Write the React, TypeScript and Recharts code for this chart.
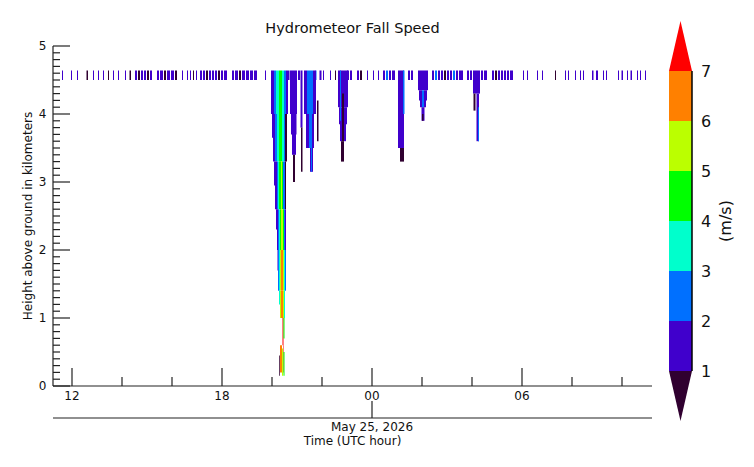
import React from 'react';
import { ComposedChart, BarChart, Bar, XAxis, YAxis, ReferenceArea, ReferenceLine } from 'recharts';

const FONT = '"DejaVu Sans", sans-serif';
const AXIS = '#222';

// fall speed classes: <1, 1-2, 2-3, 3-4, 4-5, 5-6, 6-7, >7 m/s
const levelColors = ['#300030', '#4000cc', '#0070ff', '#00ffcc', '#00ff00', '#bbff00', '#ff8000', '#ff0000'];
const colorbarTicks = [1, 2, 3, 4, 5, 6, 7];

// time in hours since 00 UTC May 24
const timeDomain = [11.24, 35.2];
const xMajorHours = [12, 18, 24, 30];
const xMajorLabels = ['12', '18', '00', '06'];
const xMinorHours = [14, 16, 20, 22, 26, 28, 32, 34];
const dateTickHour = 24;
const dateLabel = 'May 25, 2026';
const heightDomain = [0, 5];
const heightTicks = Array.from({ length: 51 }, (_, i) => i / 10);

// echoes near the top of the profile: [start h, end h, class]
const bandBottom = 4.5;
const bandTop = 4.64;
const bandStreaks = [
  [11.60, 11.64, 1], [11.96, 12.00, 1], [12.20, 12.24, 1], [12.58, 12.64, 0], [12.84, 12.88, 1],
  [13.04, 13.08, 1], [13.24, 13.28, 1], [13.44, 13.48, 0], [13.64, 13.68, 1], [13.84, 13.88, 1],
  [14.12, 14.16, 1], [14.30, 14.36, 0],
  [14.52, 14.60, 1], [14.64, 14.72, 0], [14.76, 14.84, 1], [14.88, 14.96, 1], [15.00, 15.08, 0], [15.12, 15.20, 1],
  [15.40, 15.48, 1], [15.52, 15.64, 1], [15.68, 15.76, 0], [15.80, 15.92, 1], [15.96, 16.08, 1], [16.12, 16.20, 0],
  [16.40, 16.44, 1], [16.60, 16.64, 1], [16.72, 16.76, 1], [16.84, 16.88, 0], [16.96, 17.00, 1],
  [17.12, 17.20, 1], [17.24, 17.32, 1], [17.36, 17.44, 0], [17.48, 17.56, 1], [17.60, 17.68, 1],
  [17.72, 17.80, 1], [17.84, 17.92, 0], [17.96, 18.04, 1], [18.08, 18.20, 1],
  [18.40, 18.48, 1], [18.52, 18.64, 1], [18.68, 18.76, 0], [18.80, 18.92, 1], [18.96, 19.08, 1],
  [19.12, 19.24, 1], [19.28, 19.40, 1], [19.72, 19.76, 1],
  [20.64, 20.70, 1], [21.04, 21.12, 1], [21.74, 21.78, 2], [21.90, 21.98, 1],
  [22.04, 22.08, 1], [22.32, 22.36, 1], [22.52, 22.56, 0],
  [23.00, 23.08, 1], [23.12, 23.20, 1], [23.40, 23.48, 1], [23.52, 23.60, 0], [23.80, 23.84, 1],
  [24.04, 24.08, 1], [24.24, 24.28, 1],
  [24.44, 24.52, 1], [24.56, 24.64, 2], [24.68, 24.76, 1], [24.80, 24.92, 1],
  [25.44, 25.52, 1], [25.56, 25.64, 1],
  [26.40, 26.48, 1], [26.52, 26.60, 2], [26.64, 26.72, 1], [26.76, 26.84, 1], [26.88, 26.96, 0],
  [27.00, 27.08, 1], [27.12, 27.20, 1], [27.24, 27.32, 2], [27.36, 27.44, 1], [27.48, 27.64, 1],
  [27.80, 27.88, 1], [27.92, 28.00, 1], [28.36, 28.44, 1], [28.48, 28.60, 1],
  [28.80, 28.88, 1], [28.92, 29.00, 0], [29.04, 29.12, 1], [29.16, 29.24, 1], [29.28, 29.36, 1],
  [29.40, 29.48, 1], [29.52, 29.64, 1],
  [30.04, 30.08, 1], [30.20, 30.24, 1], [30.60, 30.64, 1], [30.80, 30.84, 1], [31.32, 31.36, 0],
  [31.72, 31.76, 1], [31.84, 31.88, 1], [32.12, 32.16, 1], [32.32, 32.36, 1], [32.44, 32.48, 1],
  [32.80, 32.86, 1], [32.96, 33.04, 1], [33.24, 33.28, 1], [33.36, 33.40, 1], [33.84, 33.88, 1],
  [33.98, 34.04, 1], [34.20, 34.24, 1], [34.34, 34.40, 1], [34.60, 34.64, 1], [34.72, 34.76, 1],
  [34.92, 34.96, 1],
];

// main fall streak around 20 UTC: [start h, end h, bottom km, top km, class]
const mainShaft = [
  [19.96, 20.08, 4.0, 4.64, 1], [20.08, 20.16, 4.0, 4.64, 2], [20.16, 20.28, 4.0, 4.64, 3], [20.28, 20.40, 4.0, 4.64, 4],
  [20.40, 20.48, 4.0, 4.64, 3], [20.48, 20.56, 4.0, 4.64, 2], [20.56, 20.64, 4.0, 4.64, 1],
  [20.00, 20.04, 3.65, 4.0, 1],
  [20.04, 20.12, 3.3, 4.0, 1], [20.12, 20.20, 3.3, 4.0, 2], [20.20, 20.28, 3.3, 4.0, 3], [20.28, 20.40, 3.3, 4.0, 4],
  [20.40, 20.48, 3.3, 4.0, 3], [20.48, 20.52, 3.3, 4.0, 2], [20.52, 20.60, 3.3, 4.0, 0],
  [20.08, 20.12, 2.95, 3.3, 1],
  [20.12, 20.20, 2.6, 3.3, 1], [20.20, 20.24, 2.6, 3.3, 2], [20.24, 20.28, 2.6, 3.3, 3], [20.28, 20.36, 2.6, 3.3, 4],
  [20.36, 20.40, 2.6, 3.3, 5], [20.40, 20.44, 2.6, 3.3, 4], [20.44, 20.52, 2.6, 3.3, 2], [20.52, 20.56, 2.6, 3.3, 0],
  [20.16, 20.20, 2.3, 2.6, 1],
  [20.20, 20.24, 2.0, 2.6, 1], [20.24, 20.28, 2.0, 2.6, 2], [20.28, 20.32, 2.0, 2.6, 3], [20.32, 20.36, 2.0, 2.6, 4],
  [20.36, 20.44, 2.0, 2.6, 5], [20.44, 20.48, 2.0, 2.6, 4], [20.48, 20.52, 2.0, 2.6, 2], [20.52, 20.56, 2.0, 2.6, 1],
  [20.22, 20.24, 1.7, 2.0, 1],
  [20.24, 20.28, 1.4, 2.0, 2], [20.28, 20.32, 1.4, 2.0, 3], [20.32, 20.36, 1.4, 2.0, 5], [20.36, 20.44, 1.4, 2.0, 6],
  [20.44, 20.48, 1.4, 2.0, 5], [20.48, 20.52, 1.4, 2.0, 3], [20.52, 20.56, 1.4, 2.0, 2],
  [20.28, 20.32, 1.2, 1.4, 3],
  [20.32, 20.36, 1.0, 1.4, 5], [20.36, 20.44, 1.0, 1.4, 6], [20.44, 20.48, 1.0, 1.4, 5], [20.48, 20.52, 1.0, 1.4, 3],
  [20.42, 20.46, 0.6, 1.0, 7], [20.46, 20.50, 0.7, 1.0, 4],
  [20.28, 20.31, 0.15, 0.45, 0], [20.32, 20.40, 0.2, 0.6, 6], [20.40, 20.44, 0.15, 0.55, 5],
  [20.44, 20.46, 0.2, 0.6, 7], [20.46, 20.50, 0.15, 0.5, 4],
];

// shorter streaks: [start h, end h, bottom km, top km, class]
const minorShafts = [
  [20.72, 21.00, 4.0, 4.64, 1], [20.76, 20.80, 3.7, 4.0, 1], [20.96, 20.98, 3.7, 4.0, 1],
  [20.80, 20.96, 3.4, 4.0, 1], [20.84, 20.92, 3.0, 3.4, 0],
  [21.28, 21.40, 4.0, 4.64, 1], [21.40, 21.64, 4.0, 4.64, 2], [21.64, 21.76, 4.0, 4.64, 1],
  [21.36, 21.48, 3.5, 4.0, 1], [21.48, 21.60, 3.5, 4.0, 2], [21.60, 21.68, 3.5, 4.0, 1],
  [21.52, 21.64, 3.15, 3.5, 1], [21.56, 21.60, 3.15, 3.5, 2],
  [21.14, 21.22, 3.8, 4.64, 1], [21.16, 21.22, 3.15, 3.8, 0],
  [21.80, 21.86, 3.6, 4.2, 0],
  [22.64, 23.04, 4.1, 4.64, 1], [22.68, 22.72, 3.85, 4.1, 1], [22.96, 23.00, 3.85, 4.1, 1],
  [22.72, 22.96, 3.6, 4.1, 1], [22.72, 22.76, 3.9, 4.64, 2],
  [22.80, 22.88, 3.6, 4.3, 0], [22.76, 22.88, 3.3, 3.6, 0],
  [25.04, 25.28, 3.5, 4.64, 1], [25.12, 25.28, 3.3, 3.5, 0], [25.24, 25.30, 4.0, 4.64, 2],
  [25.84, 26.24, 4.35, 4.64, 1], [25.88, 25.92, 4.2, 4.35, 1], [26.16, 26.20, 4.2, 4.35, 1],
  [25.92, 26.00, 4.1, 4.35, 1], [26.00, 26.08, 4.1, 4.35, 2],
  [26.08, 26.16, 4.1, 4.35, 1], [25.98, 26.10, 3.9, 4.1, 1], [26.00, 26.06, 3.9, 4.0, 0],
  [28.04, 28.32, 4.3, 4.64, 1], [28.06, 28.14, 4.05, 4.3, 0], [28.18, 28.28, 3.6, 4.3, 1],
  [28.24, 28.28, 3.6, 4.1, 2],
];

const cells = [
  ...bandStreaks.map(([t0, t1, c]) => [t0, t1, bandBottom, bandTop, c]),
  ...mainShaft,
  ...minorShafts,
];
const cellRows = cells.map(([t0, t1, z0, z1, c]) => ({ t0, t1, z0, z1, c }));

const colorbarRow = [
  Object.fromEntries([['name', 'speed'], ...levelColors.map((_, i) => [`l${i}`, 1])]),
];

const TimeTick = (props: any) => {
  const { x, y, payload } = props;
  const idx = xMajorHours.indexOf(payload.value);
  return (
    <g>
      <line x1={x} x2={x} y1={y} y2={y - (idx >= 0 ? 18 : 9)} stroke={AXIS} strokeWidth={1.2} />
      {idx >= 0 && (
        <text x={x} y={y + 13.5} textAnchor="middle" fontSize={12} fontFamily={FONT} fill="#111">
          {xMajorLabels[idx]}
        </text>
      )}
    </g>
  );
};

const DateTick = (props: any) => {
  const { x, y } = props;
  return (
    <g>
      <line x1={x} x2={x} y1={y} y2={y - 17} stroke={AXIS} strokeWidth={1.2} />
      <text x={x} y={y + 13} textAnchor="middle" fontSize={12} fontFamily={FONT} fill="#111">
        {dateLabel}
      </text>
    </g>
  );
};

const HeightTick = (props: any) => {
  const { x, y, payload } = props;
  const v = payload.value;
  const major = Math.abs(v - Math.round(v)) < 1e-6;
  return (
    <g>
      <line x1={x} x2={x + (major ? 17 : 7)} y1={y} y2={y} stroke={AXIS} strokeWidth={1.2} />
      {major && (
        <text x={x - 6.5} y={y} dy="0.36em" textAnchor="end" fontSize={12} fontFamily={FONT} fill="#111">
          {Math.round(v)}
        </text>
      )}
    </g>
  );
};

const SpeedTick = (props: any) => {
  const { x, y, payload } = props;
  return (
    <text x={x + 9} y={y} dy="0.36em" fontSize={16} fontFamily={FONT} fill="#111">
      {payload.value}
    </text>
  );
};

const DownTriangle = (props: any) => {
  const { x, y, width, height, fill } = props;
  return <polygon points={`${x},${y} ${x + width},${y} ${x + width / 2},${y + height}`} fill={fill} />;
};

const UpTriangle = (props: any) => {
  const { x, y, width, height, fill } = props;
  return <polygon points={`${x},${y + height} ${x + width},${y + height} ${x + width / 2},${y}`} fill={fill} />;
};

export default function App() {
  return (
    <div style={{ position: 'absolute', left: 0, top: 0, width: 754, height: 467, background: '#fff' }}>
      <div style={{ position: 'absolute', left: 0, top: 0 }}>
        <ComposedChart
          width={754}
          height={467}
          data={cellRows}
          margin={{ top: 46, right: 102, bottom: 0, left: 0 }}
        >
          <XAxis
            xAxisId={0}
            dataKey="t0"
            type="number"
            domain={timeDomain}
            allowDataOverflow
            ticks={[...xMajorHours, ...xMinorHours].sort((a, b) => a - b)}
            interval={0}
            height={32}
            tickSize={0}
            tickMargin={0}
            tickLine={false}
            axisLine={{ stroke: AXIS, strokeWidth: 1.2 }}
            tick={TimeTick}
          />
          <XAxis
            xAxisId={1}
            dataKey="t0"
            type="number"
            domain={timeDomain}
            allowDataOverflow
            ticks={[dateTickHour]}
            interval={0}
            height={49}
            tickSize={0}
            tickMargin={0}
            tickLine={false}
            axisLine={{ stroke: AXIS, strokeWidth: 1.2 }}
            tick={DateTick}
          />
          <YAxis
            yAxisId="z"
            dataKey="z1"
            type="number"
            domain={heightDomain}
            allowDataOverflow
            ticks={heightTicks}
            interval={0}
            width={53}
            tickSize={0}
            tickMargin={0}
            tickLine={false}
            axisLine={{ stroke: AXIS, strokeWidth: 1.2 }}
            tick={HeightTick}
          />
          {cellRows.map((r, i) => (
            <ReferenceArea
              key={i}
              xAxisId={0}
              yAxisId="z"
              x1={r.t0}
              x2={r.t1}
              y1={r.z0}
              y2={r.z1}
              fill={levelColors[r.c]}
              fillOpacity={1}
              stroke="none"
            />
          ))}
        </ComposedChart>
      </div>

      <div style={{ position: 'absolute', left: 640, top: 0 }}>
        <BarChart
          width={114}
          height={467}
          data={colorbarRow}
          margin={{ top: 21, right: 32, bottom: 46, left: 29 }}
          barCategoryGap={0}
        >
          <XAxis dataKey="name" hide />
          <YAxis
            orientation="right"
            type="number"
            domain={[0, 8]}
            ticks={colorbarTicks}
            interval={0}
            width={30}
            axisLine={false}
            tickLine={false}
            tickSize={0}
            tickMargin={0}
            tick={SpeedTick}
          />
          {levelColors.map((c, i) => (
            <Bar
              key={i}
              dataKey={`l${i}`}
              stackId="cb"
              fill={c}
              isAnimationActive={false}
              shape={i === 0 ? DownTriangle : i === levelColors.length - 1 ? UpTriangle : undefined}
            />
          ))}
          <ReferenceLine
            segment={[{ x: 'speed', y: 1 }, { x: 'speed', y: 7 }]}
            position="end"
            stroke="#000"
            strokeWidth={1.5}
          />
        </BarChart>
      </div>

      <svg width={754} height={467} style={{ position: 'absolute', left: 0, top: 0, pointerEvents: 'none' }}>
        <text x={352.5} y={32.5} textAnchor="middle" fontSize={14.5} fontFamily={FONT} fill="#111">
          Hydrometeor Fall Speed
        </text>
        <text x={352.5} y={444.5} textAnchor="middle" fontSize={12} fontFamily={FONT} fill="#111">
          Time (UTC hour)
        </text>
        <text transform="translate(31.7,216) rotate(-90)" textAnchor="middle" fontSize={12} fontFamily={FONT} fill="#111">
          Height above ground in kilometers
        </text>
        <text transform="translate(730.5,221) rotate(-90)" textAnchor="middle" fontSize={16} fontFamily={FONT} fill="#111">
          (m/s)
        </text>
      </svg>
    </div>
  );
}
